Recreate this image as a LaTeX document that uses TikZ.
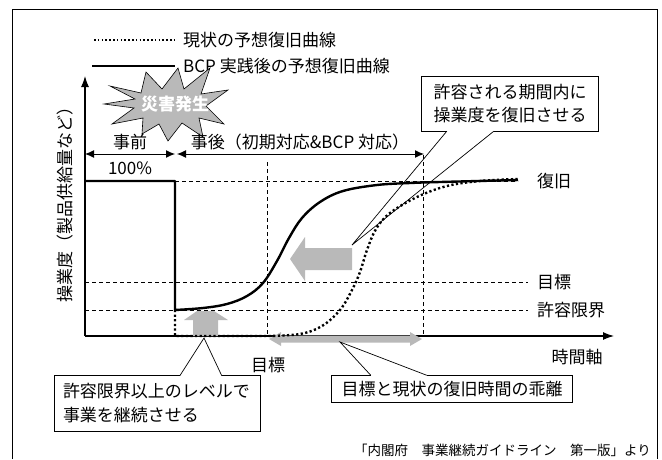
\documentclass[tikz,border=0pt]{standalone}
\usepackage{fontspec}
\setmainfont{Noto Sans CJK JP}
\usetikzlibrary{arrows.meta,calc}
\begin{document}
\begin{tikzpicture}[x=1pt,y=-1pt,
  txt/.style={inner sep=0pt, font=\fontsize{17}{20}\selectfont},
  small/.style={inner sep=0pt, font=\fontsize{13.5}{16}\selectfont},
  guide/.style={dash pattern=on 4pt off 3pt, line width=0.8pt},
  bcp/.style={line width=2.4pt, line join=round},
  nowc/.style={line width=2.4pt, dash pattern=on 2.2pt off 2.4pt},
  greyfill/.style={fill=gray!55, draw=none},
  ptr/.style={line width=0.7pt},
  boxfill/.style={fill=white, draw=none, inner sep=0pt},
  dimarrow/.style={line width=1pt, {Latex[length=9pt,width=8pt]}-{Latex[length=9pt,width=8pt]}},
  axis/.style={line width=1.1pt, -{Latex[length=11pt,width=8pt]}}]
\useasboundingbox (0,0) rectangle (662,459);

% frame
\draw[line width=0.8pt] (12,459) -- (12,9) -- (657,9) -- (657,459);

% legend
\node[txt, anchor=west] (lg1) at (183,40) {現状の予想復旧曲線};
\node[txt, anchor=west] (lg2) at (183,66) {BCP 実践後の予想復旧曲線};
\draw[line width=1.8pt, dash pattern=on 1.6pt off 2.2pt] (94,40) -- ([xshift=-8pt]lg1.west);
\draw[line width=2.4pt] (92,66) -- ([xshift=-8pt]lg2.west);

% guides
\draw[guide] (175,181) -- (518,181);
\draw[guide] (85,282) -- (528,282);
\draw[guide] (85,310) -- (528,310);
\draw[guide] (267,162) -- (267,336);
\draw[guide] (423,155) -- (423,336);

% axes
\coordinate (O) at (85,336);
\draw[axis] (O) -- (85,76);
\draw[axis] (O) -- (614,336);
\node[txt, rotate=90] (ylab) at (65,200) {操業度（製品供給量など）};
\node[txt] (xlab) at (577,357) {時間軸};

% starburst
\draw[fill=gray!55, line width=0.6pt]
  (110,86) -- (141,93) -- (146,72) -- (162,89) -- (178,68) -- (184,89) -- (210,68)
  -- (201,94) -- (228,90) -- (206,106) -- (224,124) -- (199,118) -- (203,137)
  -- (182,123) -- (168,141) -- (159,124) -- (142,134) -- (143,118) -- (112,124)
  -- (134,108) -- (104,104) -- (135,99) -- cycle;
\node[txt, text=white] (quake) at (175,104) {\textbf{災害発生}};

% phase arrows
\node[txt] (pre) at (130,142) {事前};
\node[txt] (post) at (300,142) {事後（初期対応\&BCP 対応）};
\draw[dimarrow] (85,154) -- (175,154);
\draw[dimarrow] (177,154) -- (424,154);
\node[txt] (pct) at (130,168) {100\%};

% grey arrows
\fill[greyfill] (352,248) -- (305,248) -- (305,237) -- (290,259) -- (305,281) -- (305,270) -- (352,270) -- cycle;
\fill[greyfill] (193,336) -- (193,320) -- (184,320) -- (197,311) -- (214,311) -- (228,320) -- (218,320) -- (218,336) -- cycle;
\fill[greyfill] (269,339) -- (281,332) -- (281,335.5) -- (410,335.5) -- (410,332) -- (422,339) -- (410,346) -- (410,342.5) -- (281,342.5) -- (281,346) -- cycle;

% current (dotted) curve
\draw[nowc] (175,310) -- (175,336) -- (268,336) -- plot[smooth, tension=0.6] coordinates {(268,336) (300,334) (322,326) (340,310) (352,290) (360,272) (367,250) (376,229) (390,213) (417,197) (447,186) (480,181) (518,179)};

% BCP curve
\draw[bcp] (85,181) -- (175,181) -- (175,310) -- plot[smooth, tension=0.6] coordinates {(175,310) (203,308) (227,304) (247,296) (263,283) (277,261) (289,238) (302,218) (320,202) (343,191) (377,185) (410,183) (440,182) (518,180)};

% level labels
\node[txt, anchor=west] (lrec) at (537,181) {復旧};
\node[txt, anchor=west] (ltar) at (537,282) {目標};
\node[txt, anchor=west] (llim) at (537,310) {許容限界};
\node[txt] (ttar) at (268,365) {目標};

% callout 1 (top right)
\node[boxfill, minimum width=176pt, minimum height=54pt] (b1) at (510,104) {};
\node[txt, align=center] at (b1.center) {許容される期間内に\\[3pt]操業度を復旧させる};
\coordinate (p1) at (352,245);
\coordinate (b1a) at ($(b1.south west)+(25,0)$);
\coordinate (b1b) at ($(b1.south west)+(72,0)$);
\draw[line width=0.8pt] (b1a) -- (b1.south west) -- (b1.north west) -- (b1.north east) -- (b1.south east) -- (b1b);
\draw[ptr] (b1a) -- (p1) -- (b1b);

% callout 2 (bottom left)
\node[boxfill, minimum width=205pt, minimum height=55pt] (b2) at (157.5,403.5) {};
\node[txt, align=left, anchor=west] at ([xshift=8pt]b2.west) {許容限界以上のレベルで\\[4pt]事業を継続させる};
\coordinate (p2) at (204,338);
\coordinate (b2a) at ($(b2.north west)+(125,0)$);
\coordinate (b2b) at ($(b2.north west)+(167,0)$);
\draw[line width=0.8pt] (b2a) -- (b2.north west) -- (b2.south west) -- (b2.south east) -- (b2.north east) -- (b2b);
\draw[ptr] (b2a) -- (p2) -- (b2b);

% callout 3 (bottom right)
\node[boxfill, minimum width=240pt, minimum height=27pt] (b3) at (452,389) {};
\node[txt] at (b3.center) {目標と現状の復旧時間の乖離};
\coordinate (p3) at (340,342);
\coordinate (b3a) at ($(b3.north west)+(39,0)$);
\coordinate (b3b) at ($(b3.north west)+(95,0)$);
\draw[line width=0.8pt] (b3a) -- (b3.north west) -- (b3.south west) -- (b3.south east) -- (b3.north east) -- (b3b);
\draw[ptr] (b3a) -- (p3) -- (b3b);

% citation
\node[small, anchor=east] (cite) at (651,450) {「内閣府　事業継続ガイドライン　第一版」より};
\end{tikzpicture}
\end{document}
